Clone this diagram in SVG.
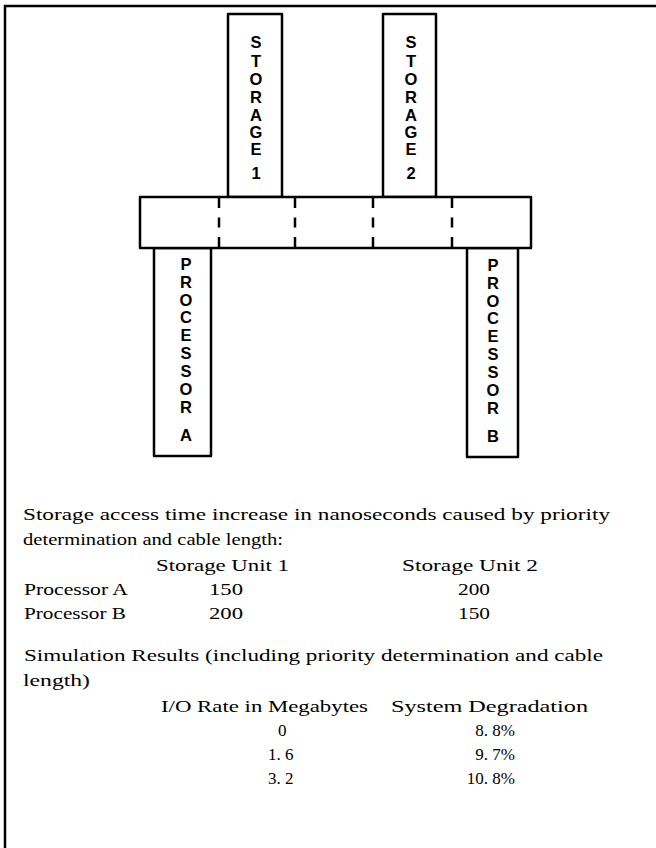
<svg xmlns="http://www.w3.org/2000/svg" width="656" height="848" viewBox="0 0 656 848">
<style>
.box{fill:#fff;stroke:#000;stroke-width:2.5;stroke-linejoin:round}
.dash{stroke:#000;stroke-width:2.5;stroke-dasharray:10 9.5;fill:none}
.lbl{font-family:"Liberation Sans",Arial,sans-serif;font-weight:bold;font-size:16.5px;fill:#000;text-anchor:middle}
.t{font-family:"Liberation Serif","Times New Roman",serif;font-size:17px;fill:#000}
.r{text-anchor:end}
</style>
<rect width="656" height="848" fill="#fff"/>
<path d="M5,848 V6 H656" fill="none" stroke="#000" stroke-width="2.5"/>
<g id="storage1">
<rect class="box" x="228" y="14" width="54" height="183"/>
<text class="lbl"><tspan x="256" y="48">S</tspan><tspan x="256" y="67">T</tspan><tspan x="256" y="85">O</tspan><tspan x="256" y="103">R</tspan><tspan x="256" y="121">A</tspan><tspan x="256" y="138">G</tspan><tspan x="256" y="155">E</tspan><tspan x="256" y="179">1</tspan></text>
</g>
<g id="storage2">
<rect class="box" x="383" y="14" width="53" height="183"/>
<text class="lbl"><tspan x="411" y="48">S</tspan><tspan x="411" y="67">T</tspan><tspan x="411" y="85">O</tspan><tspan x="411" y="103">R</tspan><tspan x="411" y="121">A</tspan><tspan x="411" y="138">G</tspan><tspan x="411" y="155">E</tspan><tspan x="411" y="179">2</tspan></text>
</g>
<g id="processorA">
<rect class="box" x="154" y="248" width="57" height="208"/>
<text class="lbl"><tspan x="186" y="270">P</tspan><tspan x="186" y="288">R</tspan><tspan x="186" y="306">O</tspan><tspan x="186" y="323">C</tspan><tspan x="186" y="341">E</tspan><tspan x="186" y="359">S</tspan><tspan x="186" y="377">S</tspan><tspan x="186" y="395">O</tspan><tspan x="186" y="413">R</tspan><tspan x="186" y="441">A</tspan></text>
</g>
<g id="processorB">
<rect class="box" x="467" y="248" width="51" height="209"/>
<text class="lbl"><tspan x="493" y="271">P</tspan><tspan x="493" y="289">R</tspan><tspan x="493" y="307">O</tspan><tspan x="493" y="324">C</tspan><tspan x="493" y="342">E</tspan><tspan x="493" y="360">S</tspan><tspan x="493" y="378">S</tspan><tspan x="493" y="396">O</tspan><tspan x="493" y="414">R</tspan><tspan x="493" y="442">B</tspan></text>
</g>
<g id="bus">
<rect class="box" x="140" y="197" width="391" height="51"/>
</g>
<g id="connectors">
<line class="dash" x1="219" y1="198" x2="219" y2="248"/>
<line class="dash" x1="295" y1="198" x2="295" y2="248"/>
<line class="dash" x1="373" y1="198" x2="373" y2="248"/>
<line class="dash" x1="452" y1="198" x2="452" y2="248"/>
</g>
<g id="text1">
<text class="t" x="23" y="520" textLength="587" lengthAdjust="spacingAndGlyphs">Storage access time increase in nanoseconds caused by priority</text>
<text class="t" x="23" y="545" textLength="260" lengthAdjust="spacingAndGlyphs">determination and cable length:</text>
<text class="t" x="156" y="571" textLength="133" lengthAdjust="spacingAndGlyphs">Storage Unit 1</text>
<text class="t" x="402" y="571" textLength="136" lengthAdjust="spacingAndGlyphs">Storage Unit 2</text>
<text class="t" x="24" y="595" textLength="104" lengthAdjust="spacingAndGlyphs">Processor A</text>
<text class="t" x="209" y="595" textLength="34" lengthAdjust="spacingAndGlyphs">150</text>
<text class="t" x="458" y="595" textLength="32" lengthAdjust="spacingAndGlyphs">200</text>
<text class="t" x="24" y="619" textLength="102" lengthAdjust="spacingAndGlyphs">Processor B</text>
<text class="t" x="209" y="619" textLength="34" lengthAdjust="spacingAndGlyphs">200</text>
<text class="t" x="458" y="619" textLength="32" lengthAdjust="spacingAndGlyphs">150</text>
</g>
<g id="text2">
<text class="t" x="24" y="661" textLength="579" lengthAdjust="spacingAndGlyphs">Simulation Results (including priority determination and cable</text>
<text class="t" x="23" y="686" textLength="67" lengthAdjust="spacingAndGlyphs">length)</text>
<text class="t" x="161" y="712" textLength="207" lengthAdjust="spacingAndGlyphs">I/O Rate in Megabytes</text>
<text class="t" x="391" y="712" textLength="197" lengthAdjust="spacingAndGlyphs">System Degradation</text>
<text class="t" x="278" y="736">0</text>
<text class="t r" x="515" y="736">8. 8%</text>
<text class="t" x="268" y="760">1. 6</text>
<text class="t r" x="515" y="760">9. 7%</text>
<text class="t" x="268" y="784">3. 2</text>
<text class="t r" x="515" y="784">10. 8%</text>
</g>
</svg>
